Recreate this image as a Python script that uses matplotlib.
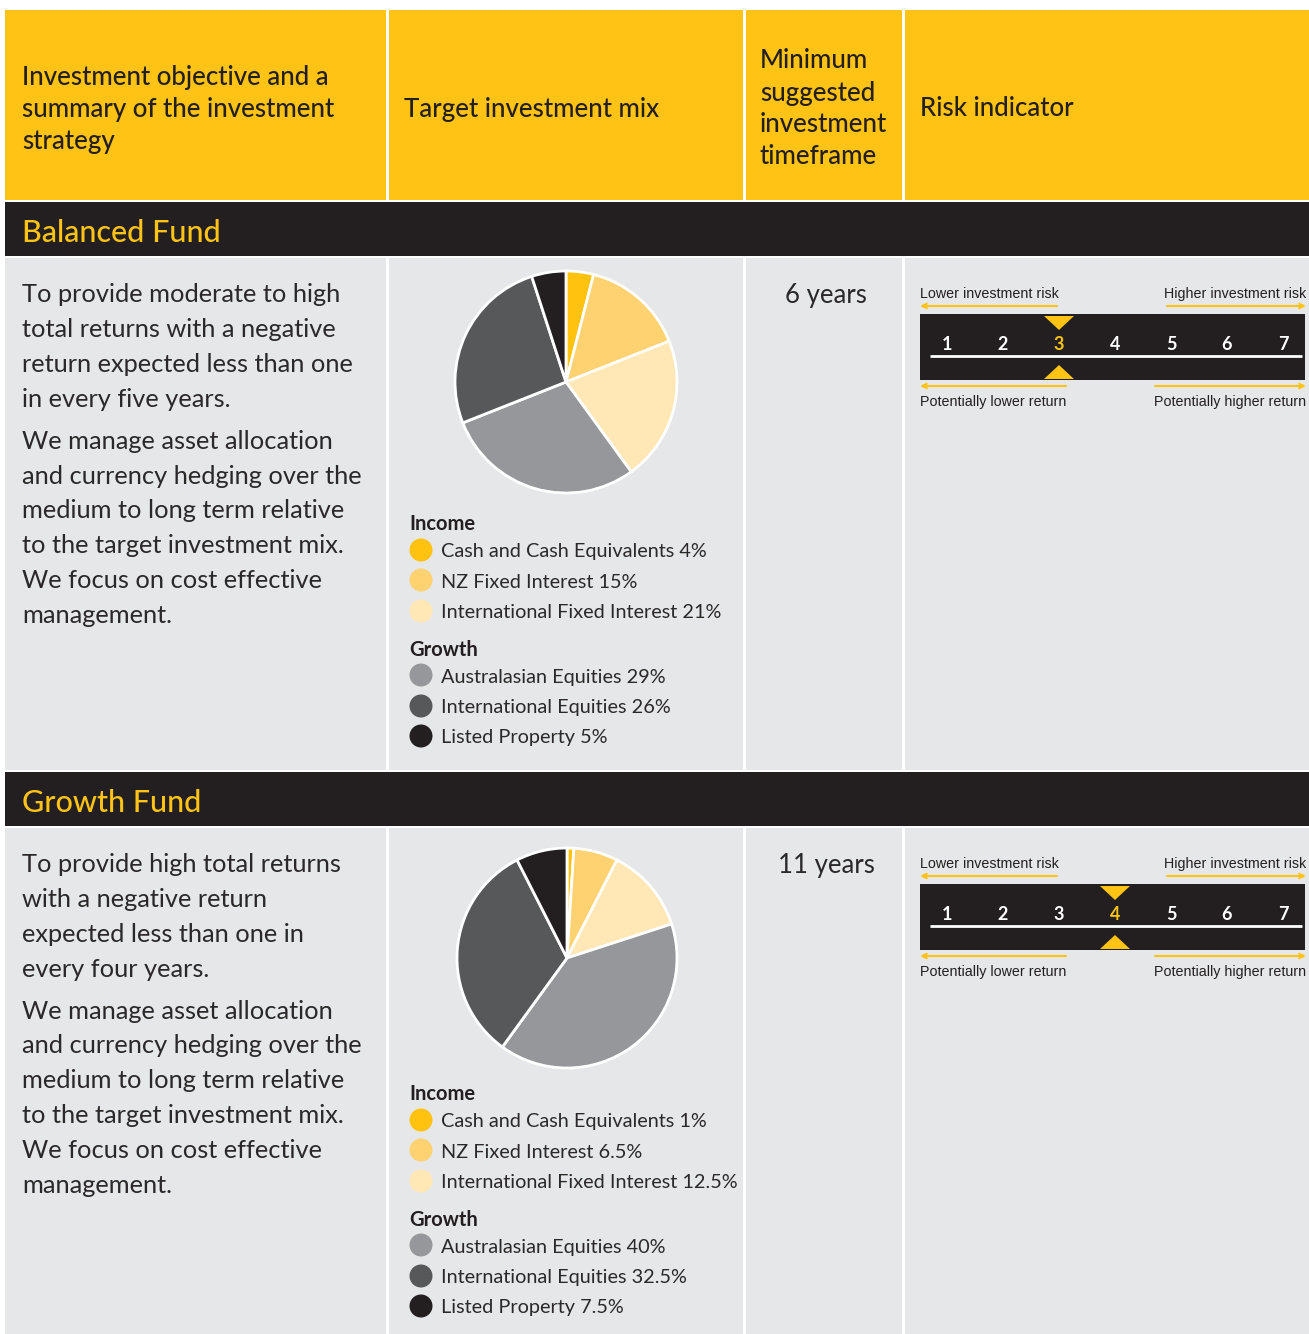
import matplotlib
matplotlib.use("Agg")
import matplotlib.pyplot as plt
from matplotlib.patches import Rectangle, Circle, Polygon

# ---- data ----
header_labels = [
    ["Investment objective and a", "summary of the investment", "strategy"],
    ["Target investment mix"],
    ["Minimum", "suggested", "investment", "timeframe"],
    ["Risk indicator"],
]
fund_names = ["Balanced Fund", "Growth Fund"]
objective_text = [
    [["To provide moderate to high", "total returns with a negative",
      "return expected less than one", "in every five years."],
     ["We manage asset allocation", "and currency hedging over the",
      "medium to long term relative", "to the target investment mix.",
      "We focus on cost effective", "management."]],
    [["To provide high total returns", "with a negative return",
      "expected less than one in", "every four years."],
     ["We manage asset allocation", "and currency hedging over the",
      "medium to long term relative", "to the target investment mix.",
      "We focus on cost effective", "management."]],
]
asset_classes = ["Cash and Cash Equivalents", "NZ Fixed Interest",
                 "International Fixed Interest", "Australasian Equities",
                 "International Equities", "Listed Property"]
balanced_mix = [4, 15, 21, 29, 26, 5]
growth_mix = [1, 6.5, 12.5, 40, 32.5, 7.5]
fund_mixes = [balanced_mix, growth_mix]
timeframes = ["6 years", "11 years"]
risk_scale = [1, 2, 3, 4, 5, 6, 7]
risk_levels = [3, 4]

# ---- style ----
YELLOW = "#FEC314"
DARK = "#231F20"
BODY = "#E6E7E8"
TXT = "#2B2829"
asset_colors = ["#FFC20E", "#FED271", "#FFE8B5", "#96979A", "#57585A", "#231F20"]
FONT = ["Lato", "DejaVu Sans"]
NARROW = ["Liberation Sans Narrow", "Liberation Sans", "DejaVu Sans"]
DY = 2  # nudge text down a bit

W, H = 1309, 1334
fig = plt.figure(figsize=(W / 100, H / 100), dpi=100)
ax = fig.add_axes([0, 0, 1, 1])
fig.patch.set_facecolor("white")

cols = [(5, 386), (389, 743), (746, 902), (905, 1309)]
row_tops = [202, 772]
row_bottoms = [770, 1334]
pie_centers = [(566, 382), (567, 958)]
pie_radius = [111, 110]

# header
for (x0, x1) in cols:
    ax.add_patch(Rectangle((x0, 10), x1 - x0, 190, color=YELLOW, lw=0))
header_x = [22, 404, 760, 920]
for hx, lines in zip(header_x, header_labels):
    n = len(lines)
    for i, s in enumerate(lines):
        ax.text(hx, 107 + DY + (i - (n - 1) / 2) * 32, s, fontsize=18.6, color=DARK,
                va="center", ha="left", family=FONT, weight="medium")

for r, name in enumerate(fund_names):
    top = row_tops[r]
    b = top + 91
    # band
    ax.add_patch(Rectangle((5, top), W - 5, 54, color=DARK, lw=0))
    ax.text(22, top + 29 + DY, name, fontsize=22, color=YELLOW, va="center",
            family=FONT, weight="medium")
    # body cells
    for (x0, x1) in cols:
        ax.add_patch(Rectangle((x0, top + 56), x1 - x0, row_bottoms[r] - top - 56,
                               color=BODY, lw=0))
    # objective text
    y = b + DY
    for p, para in enumerate(objective_text[r]):
        if p > 0:
            y += 7
        for s in para:
            ax.text(22, y, s, fontsize=18.3, color=TXT, va="center", family=FONT)
            y += 34.8

    # pie
    ax.pie(fund_mixes[r], colors=asset_colors, startangle=-90, counterclock=True,
           center=pie_centers[r], radius=pie_radius[r],
           wedgeprops=dict(edgecolor="white", linewidth=2))

    # legend
    L = top + 320
    offsets = [28, 58, 89, 153, 184, 214]
    ax.text(409, L + DY, "Income", fontsize=14.5, color=DARK, weight="bold",
            va="center", family=FONT)
    ax.text(409, L + 126 + DY, "Growth", fontsize=14.5, color=DARK, weight="bold",
            va="center", family=FONT)
    for k, (lab, val) in enumerate(zip(asset_classes, fund_mixes[r])):
        yy = L + offsets[k]
        ax.add_patch(Circle((421, yy), 11.5, color=asset_colors[k], lw=0))
        ax.text(441, yy + DY, f"{lab} {val:g}%", fontsize=14.3, color=TXT,
                va="center", family=FONT)

    # timeframe
    ax.text(826, b + DY, timeframes[r], fontsize=18.5, color=TXT, ha="center",
            va="center", family=FONT)

    # risk indicator
    ax.text(920, b + 1, "Lower investment risk", fontsize=10.3, color=DARK,
            va="center", ha="left", family=NARROW)
    ax.text(1306, b + 1, "Higher investment risk", fontsize=10.3, color=DARK,
            va="center", ha="right", family=NARROW)
    ax.text(920, b + 109, "Potentially lower return", fontsize=10.3, color=DARK,
            va="center", ha="left", family=NARROW)
    ax.text(1306, b + 109, "Potentially higher return", fontsize=10.3, color=DARK,
            va="center", ha="right", family=NARROW)
    arr = dict(arrowstyle="->", color=YELLOW, lw=1.5, mutation_scale=8,
               shrinkA=0, shrinkB=0)
    ax.annotate("", xy=(920, b + 13), xytext=(1057, b + 13), arrowprops=arr)
    ax.annotate("", xy=(1306, b + 13), xytext=(1167, b + 13), arrowprops=arr)
    ax.annotate("", xy=(920, b + 93), xytext=(1066, b + 93), arrowprops=arr)
    ax.annotate("", xy=(1306, b + 93), xytext=(1155, b + 93), arrowprops=arr)

    ax.add_patch(Rectangle((920, b + 21), 385, 66, color=DARK, lw=0))
    ax.plot([930, 1302], [b + 63, b + 63], color="white", lw=2,
            solid_capstyle="butt")
    for i, lvl in enumerate(risk_scale):
        xx = 947 + 56 * i
        sel = lvl == risk_levels[r]
        ax.text(xx, b + 51, str(lvl), fontsize=13, color=YELLOW if sel else "white",
                ha="center", va="center", family=FONT, weight="bold")
        if sel:
            ax.add_patch(Polygon([(xx - 15, b + 23), (xx + 15, b + 23), (xx, b + 37)],
                                 color=YELLOW, lw=0))
            ax.add_patch(Polygon([(xx - 15, b + 86), (xx + 15, b + 86), (xx, b + 72)],
                                 color=YELLOW, lw=0))

ax.set_xlim(0, W)
ax.set_ylim(H, 0)
ax.set_aspect("auto")
ax.axis("off")
fig.savefig("out.png", dpi=100, facecolor="white")
